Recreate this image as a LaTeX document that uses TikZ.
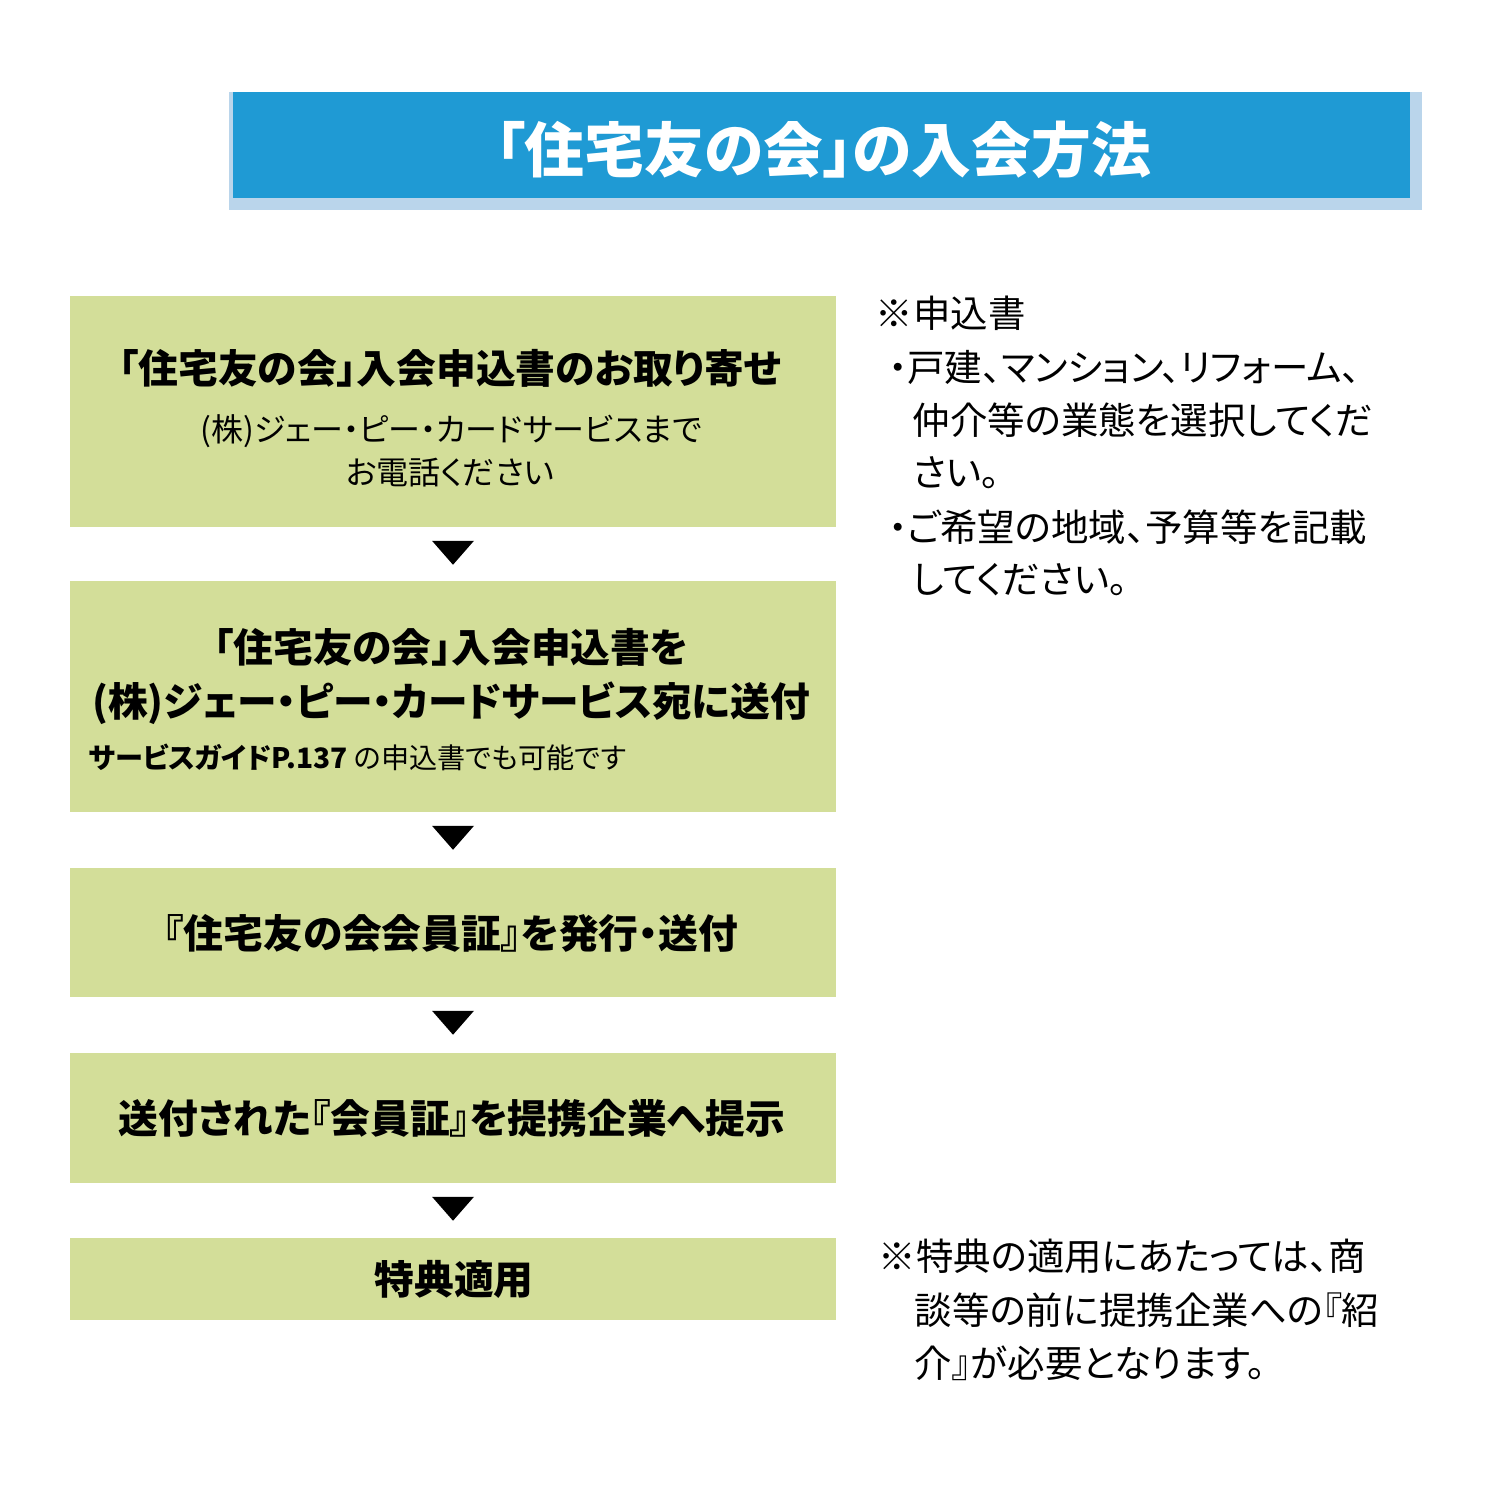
\documentclass[tikz,border=0pt]{standalone}
\usepackage{fontspec}
\setmainfont{Noto Sans CJK JP}[RawFeature=+palt]
\usepackage{tikz}
\usetikzlibrary{calc}
\definecolor{boxgreen}{HTML}{D3DE99}
\definecolor{titleblue}{HTML}{1F9AD4}
\definecolor{shadowblue}{HTML}{BAD5EB}

\begin{document}
\begin{tikzpicture}[x=0.01cm,y=-0.01cm,
  box/.style={fill=boxgreen,minimum width=7.66cm,inner sep=0},
  head/.style={inner sep=0,font=\bfseries\fontsize{11.3pt}{13pt}\selectfont},
  sub/.style={inner sep=0,font=\fontsize{9.1pt}{10pt}\selectfont},
  note/.style={anchor=west,inner sep=0,font=\fontsize{10.65pt}{12pt}\selectfont}]
  \useasboundingbox (0,0) rectangle (1500,1500);

  \fill[shadowblue] (229,92) rectangle (1422,210);
  \node[fill=titleblue,minimum width=11.77cm,minimum height=1.06cm] (title) at (821.5,145){};
  \node[inner sep=0,white,font=\bfseries\fontsize{17pt}{19pt}\selectfont] (titletext) at (823,150){「住宅友の会」の入会方法};

  \node[box,minimum height=2.31cm] (b1) at (453,411.5){};
  \node[box,minimum height=2.31cm] (b2) at (453,696.5){};
  \node[box,minimum height=1.29cm] (b3) at (453,932.5){};
  \node[box,minimum height=1.30cm] (b4) at (453,1118){};
  \node[box,minimum height=0.82cm] (b5) at (453,1279){};

  \node[head] (t11) at (450,368){「住宅友の会」入会申込書のお取り寄せ};
  \node[sub] (t12) at (451,431){(株)ジェー・ピー・カードサービスまで};
  \node[sub] (t13) at (450,473){お電話ください};
  \node[head] (t21) at (451,647){「住宅友の会」入会申込書を};
  \node[head] (t22) at (451,703){(株)ジェー・ピー・カードサービス宛に送付};
  \node[sub,anchor=west,font=\fontsize{8pt}{10pt}\selectfont] (t23) at (88,757){\textbf{サービスガイドP.137} の申込書でも可能です};
  \node[head] (t3) at (451,933){『住宅友の会会員証』を発行・送付};
  \node[head] (t4) at (452,1118){送付された『会員証』を提携企業へ提示};
  \node[head] (t5) at (454,1279){特典適用};

  \foreach \a/\b in {b1/b2,b2/b3,b3/b4,b4/b5}
    \fill ($(\a.south)+(-21,13)$) -- ++(42,0) -- ++(-21,24) -- cycle;

  \node[note] (n0) at (875,313){※申込書};
  \node[note] (n1) at (888,367){・戸建、マンション、リフォーム、};
  \node[note] (n2) at (912,420){仲介等の業態を選択してくだ};
  \node[note] (n3) at (912,473){さい。};
  \node[note] (n4) at (888,527){・ご希望の地域、予算等を記載};
  \node[note] (n5) at (912,580){してください。};

  \node[note] (m0) at (878,1256){※特典の適用にあたっては、商};
  \node[note] (m1) at (914,1310){談等の前に提携企業への『紹};
  \node[note] (m2) at (914,1363){介』が必要となります。};
\end{tikzpicture}
\end{document}
